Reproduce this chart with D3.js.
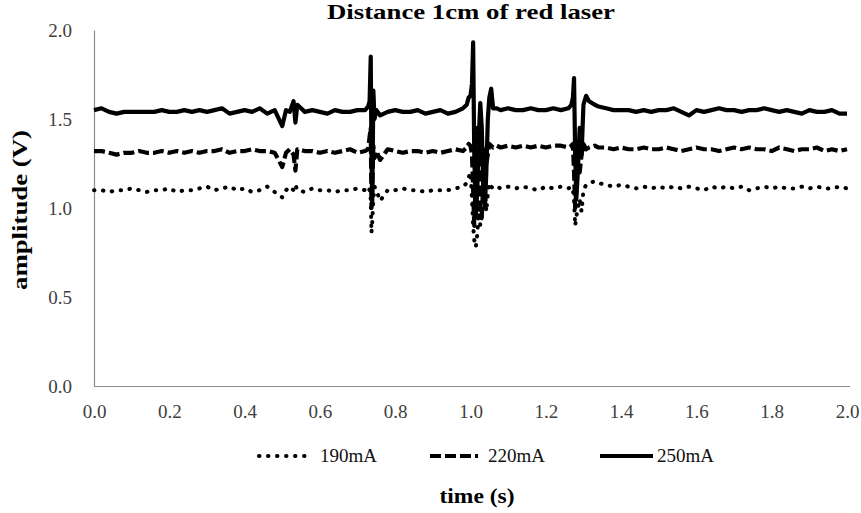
<!DOCTYPE html>
<html>
<head>
<meta charset="utf-8">
<script src="https://cdn.jsdelivr.net/npm/d3@7"></script>
<style>
  body { margin: 0; background: #fff; }
  svg text { font-family: "Liberation Serif", "Times New Roman", serif; }
</style>
</head>
<body>
<div id="chart"></div>
<script>
// Data
const times = [
  0.00, 0.02, 0.04, 0.06, 0.08, 0.10, 0.12, 0.14, 0.16, 0.18,
  0.20, 0.22, 0.24, 0.26, 0.28, 0.30, 0.32, 0.34, 0.36, 0.38,
  0.40, 0.42, 0.44, 0.46, 0.48, 0.50, 0.51, 0.52, 0.53, 0.535,
  0.54, 0.56, 0.58, 0.60, 0.62, 0.64, 0.66, 0.68, 0.70, 0.72,
  0.728, 0.732, 0.735, 0.737, 0.739, 0.742, 0.745, 0.75, 0.76, 0.78,
  0.80, 0.82, 0.84, 0.86, 0.88, 0.90, 0.92, 0.94, 0.96, 0.98,
  0.99, 0.995, 1.000, 1.004, 1.007, 1.010, 1.014, 1.018, 1.022, 1.026,
  1.030, 1.034, 1.038, 1.042, 1.046, 1.050, 1.055, 1.060, 1.07, 1.08,
  1.10, 1.12, 1.14, 1.16, 1.18, 1.20, 1.22, 1.24, 1.26, 1.268,
  1.272, 1.275, 1.278, 1.281, 1.285, 1.29, 1.295, 1.30, 1.307, 1.315,
  1.33, 1.34, 1.36, 1.38, 1.40, 1.42, 1.44, 1.46, 1.48, 1.50,
  1.52, 1.54, 1.56, 1.58, 1.60, 1.62, 1.64, 1.66, 1.68, 1.70,
  1.72, 1.74, 1.76, 1.78, 1.80, 1.82, 1.84, 1.86, 1.88, 1.90,
  1.92, 1.94, 1.96, 1.98, 2.00
];

const amp190 = [
  1.10, 1.10, 1.09, 1.10, 1.10, 1.11, 1.10, 1.09, 1.10, 1.10,
  1.11, 1.09, 1.10, 1.10, 1.11, 1.12, 1.10, 1.11, 1.12, 1.10,
  1.11, 1.09, 1.10, 1.12, 1.09, 1.06, 1.10, 1.12, 1.10, 1.13,
  1.10, 1.09, 1.11, 1.10, 1.10, 1.09, 1.10, 1.10, 1.11, 1.10,
  1.12, 1.10, 1.05, 0.86, 0.92, 1.05, 1.12, 1.10, 1.04, 1.10,
  1.10, 1.11, 1.10, 1.10, 1.09, 1.10, 1.10, 1.10, 1.11, 1.12,
  1.14, 1.17, 1.20, 1.05, 0.90, 0.82, 0.78, 0.85, 1.00, 0.90,
  0.95, 1.05, 1.12, 0.98, 1.08, 1.14, 1.12, 1.11, 1.12, 1.11,
  1.12, 1.11, 1.12, 1.11, 1.10, 1.12, 1.11, 1.12, 1.11, 1.12,
  1.10, 1.05, 0.90, 0.95, 1.00, 1.05, 0.98, 1.10, 1.13, 1.14,
  1.15, 1.14, 1.13, 1.12, 1.13, 1.12, 1.11, 1.12, 1.11, 1.12,
  1.11, 1.12, 1.11, 1.12, 1.11, 1.10, 1.12, 1.11, 1.12, 1.11,
  1.12, 1.10, 1.11, 1.12, 1.11, 1.12, 1.11, 1.11, 1.12, 1.11,
  1.12, 1.11, 1.11, 1.12, 1.11
];

const amp220 = [
  1.32, 1.32, 1.31, 1.30, 1.31, 1.31, 1.32, 1.31, 1.31, 1.32,
  1.31, 1.32, 1.31, 1.32, 1.31, 1.32, 1.32, 1.33, 1.31, 1.32,
  1.32, 1.33, 1.32, 1.32, 1.31, 1.23, 1.31, 1.33, 1.30, 1.21,
  1.33, 1.32, 1.32, 1.31, 1.32, 1.31, 1.32, 1.33, 1.31, 1.32,
  1.33, 1.40, 1.45, 1.00, 1.10, 1.35, 1.28, 1.32, 1.27, 1.33,
  1.32, 1.31, 1.32, 1.32, 1.31, 1.32, 1.31, 1.32, 1.33, 1.32,
  1.34, 1.36, 1.35, 1.30, 1.10, 0.90, 1.20, 1.45, 1.30, 1.00,
  0.95, 1.15, 1.35, 1.25, 1.30, 1.36, 1.35, 1.34, 1.35, 1.34,
  1.35, 1.34, 1.35, 1.34, 1.35, 1.34, 1.35, 1.35, 1.34, 1.35,
  1.36, 1.20, 1.00, 1.10, 1.25, 1.20, 1.30, 1.36, 1.33, 1.34,
  1.35, 1.34, 1.34, 1.33, 1.34, 1.33, 1.33, 1.34, 1.33, 1.33,
  1.34, 1.33, 1.32, 1.33, 1.34, 1.33, 1.33, 1.32, 1.33, 1.34,
  1.33, 1.34, 1.33, 1.33, 1.32, 1.34, 1.33, 1.32, 1.33, 1.33,
  1.34, 1.32, 1.33, 1.32, 1.33
];

const amp250 = [
  1.55, 1.56, 1.54, 1.53, 1.54, 1.54, 1.54, 1.54, 1.54, 1.55,
  1.54, 1.54, 1.55, 1.54, 1.55, 1.54, 1.55, 1.56, 1.53, 1.54,
  1.55, 1.54, 1.56, 1.53, 1.55, 1.46, 1.55, 1.54, 1.60, 1.48,
  1.58, 1.54, 1.55, 1.54, 1.53, 1.55, 1.54, 1.54, 1.55, 1.55,
  1.57, 1.60, 1.85, 1.30, 1.02, 1.66, 1.50, 1.55, 1.52, 1.54,
  1.55, 1.54, 1.54, 1.55, 1.53, 1.54, 1.55, 1.53, 1.54, 1.56,
  1.58, 1.62, 1.63, 1.70, 1.93, 1.30, 0.95, 1.10, 1.40, 1.59,
  1.45, 1.10, 1.00, 1.20, 1.50, 1.62, 1.67, 1.56, 1.56, 1.55,
  1.56, 1.55, 1.55, 1.56, 1.55, 1.55, 1.56, 1.55, 1.56, 1.58,
  1.62, 1.73, 1.30, 1.05, 1.20, 1.45, 1.30, 1.58, 1.63, 1.60,
  1.58, 1.57, 1.56, 1.55, 1.55, 1.55, 1.54, 1.55, 1.54, 1.55,
  1.55, 1.56, 1.54, 1.52, 1.55, 1.54, 1.55, 1.56, 1.55, 1.55,
  1.54, 1.55, 1.55, 1.56, 1.55, 1.54, 1.55, 1.54, 1.53, 1.55,
  1.54, 1.54, 1.55, 1.53, 1.53
];

const seriesNames = ['190mA', '220mA', '250mA'];
const xTicks = [0, 0.2, 0.4, 0.6, 0.8, 1.0, 1.2, 1.4, 1.6, 1.8, 2.0];
const yTicks = [0, 0.5, 1.0, 1.5, 2.0];

// Dimensions
const width = 861, height = 513;
const plot = { left: 94, right: 847, top: 30, bottom: 386 };

const svg = d3.select('#chart')
  .append('svg')
  .attr('width', width)
  .attr('height', height);

// Scales
const xScale = d3.scaleLinear()
  .domain([0, 2])
  .range([plot.left, plot.right]);

const yScale = d3.scaleLinear()
  .domain([0, 2])
  .range([plot.bottom, plot.top]);

// Axes
const xAxis = d3.axisBottom(xScale)
  .tickValues(xTicks)
  .tickFormat(d3.format('.1f'))
  .tickSizeInner(0)
  .tickSizeOuter(0)
  .tickPadding(19);

const xAxisGroup = svg.append('g')
  .attr('transform', `translate(0,${plot.bottom})`)
  .call(xAxis);

const yAxis = d3.axisLeft(yScale)
  .tickValues(yTicks)
  .tickFormat(d3.format('.1f'))
  .tickSizeInner(0)
  .tickSizeOuter(0)
  .tickPadding(22);

const yAxisGroup = svg.append('g')
  .attr('transform', `translate(${plot.left},0)`)
  .call(yAxis);

// x axis line runs a little past the last label
xAxisGroup.select('.domain')
  .attr('d', `M${plot.left},0.5H850`);

[xAxisGroup, yAxisGroup].forEach(g => {
  g.attr('font-family', null);
  g.select('.domain').attr('stroke', '#8c8c8c').attr('stroke-width', 1.2);
  g.selectAll('text')
    .attr('font-size', 19)
    .attr('fill', '#404040');
});

// Lines
const styles = {
  '190mA': { dash: '0.5,8.5', width: 4, cap: 'round' },
  '220mA': { dash: '11,4', width: 4.2, cap: 'butt' },
  '250mA': { dash: null, width: 4.2, cap: 'butt' }
};

const seriesValues = [amp190, amp220, amp250];
const series = seriesNames.map((name, i) => ({
  name,
  points: times.map((t, j) => ({ t, v: seriesValues[i][j] }))
}));

const lineGenerator = d3.line()
  .x(d => xScale(d.t))
  .y(d => yScale(d.v));

svg.append('g')
  .selectAll('path')
  .data(series)
  .join('path')
  .attr('d', d => lineGenerator(d.points))
  .attr('fill', 'none')
  .attr('stroke', '#000')
  .attr('stroke-width', d => styles[d.name].width)
  .attr('stroke-dasharray', d => styles[d.name].dash)
  .attr('stroke-linecap', d => styles[d.name].cap)
  .attr('stroke-linejoin', 'round');

// Legend
const legendItems = [
  { x1: 259, x2: 308, tx: 320 },
  { x1: 430, x2: 478, tx: 488 },
  { x1: 600, x2: 653, tx: 657 }
];
const legendY = 456;

const legend = svg.append('g');
series.forEach((s, i) => {
  const item = legendItems[i];
  legend.append('line')
    .attr('x1', item.x1)
    .attr('x2', item.x2)
    .attr('y1', legendY)
    .attr('y2', legendY)
    .attr('stroke', '#000')
    .attr('stroke-width', styles[s.name].width)
    .attr('stroke-dasharray', styles[s.name].dash)
    .attr('stroke-linecap', styles[s.name].cap);
  legend.append('text')
    .attr('x', item.tx)
    .attr('y', legendY + 6)
    .attr('font-size', 19)
    .attr('fill', '#111')
    .text(s.name);
});

// Title and axis labels
svg.append('text')
  .attr('x', 471)
  .attr('y', 19)
  .attr('text-anchor', 'middle')
  .attr('font-size', 21)
  .attr('font-weight', 'bold')
  .attr('textLength', 288)
  .attr('lengthAdjust', 'spacingAndGlyphs')
  .text('Distance 1cm of red laser');

svg.append('text')
  .attr('transform', 'translate(27,210) rotate(-90)')
  .attr('text-anchor', 'middle')
  .attr('font-size', 21)
  .attr('font-weight', 'bold')
  .attr('textLength', 160)
  .attr('lengthAdjust', 'spacingAndGlyphs')
  .text('amplitude  (V)');

svg.append('text')
  .attr('x', 477)
  .attr('y', 503)
  .attr('text-anchor', 'middle')
  .attr('font-size', 21)
  .attr('font-weight', 'bold')
  .attr('textLength', 75)
  .attr('lengthAdjust', 'spacingAndGlyphs')
  .text('time (s)');
</script>
</body>
</html>
